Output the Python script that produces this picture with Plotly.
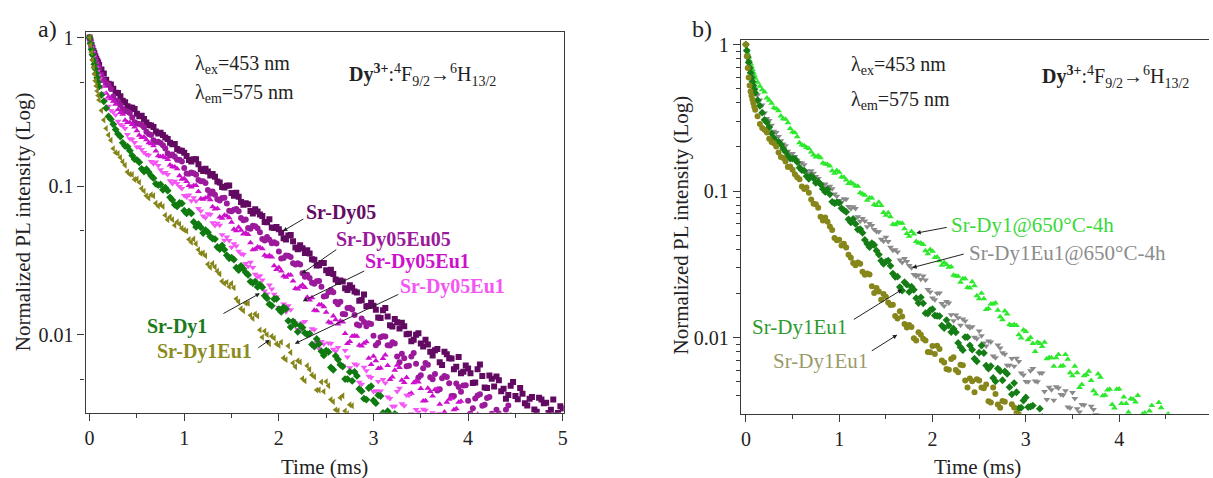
import numpy as np
import plotly.graph_objects as go

W, H = 1213, 478
SERIF = "Times New Roman, Liberation Serif, Times, serif"

# sampling grids of the decay traces (ms)
time_main = np.concatenate([[0.0, 0.02, 0.04, 0.06, 0.08, 0.10],
                            np.round(np.arange(0.15, 5.0001, 0.05), 3)])
time_mid = np.concatenate([[0.01, 0.03, 0.05, 0.07, 0.09, 0.125],
                           np.round(np.arange(0.175, 4.9751, 0.05), 3)])

# ---- panel a: log10 of normalized PL intensity ----
sr_dy05_log = [0, -0.05, -0.09, -0.125, -0.155, -0.185,
    -0.241, -0.310, -0.344, -0.373, -0.425, -0.462, -0.472, -0.512, -0.526, -0.572,
    -0.591, -0.631, -0.640, -0.673, -0.708, -0.716, -0.759, -0.775, -0.824, -0.818,
    -0.853, -0.898, -0.901, -0.918, -0.969, -1.006, -0.997, -1.045, -1.044, -1.107,
    -1.115, -1.166, -1.155, -1.191, -1.240, -1.223, -1.282, -1.290, -1.351, -1.332,
    -1.370, -1.424, -1.417, -1.431, -1.492, -1.533, -1.516, -1.565, -1.563, -1.627,
    -1.635, -1.687, -1.666, -1.708, -1.770, -1.728, -1.806, -1.804, -1.883, -1.834,
    -1.877, -1.944, -1.915, -1.918, -1.997, -2.044, -1.999, -2.058, -2.034, -2.114,
    -2.104, -2.184, -2.114, -2.158, -2.232, -2.150, -2.248, -2.226, -2.325, -2.232,
    -2.277, -2.358, -2.295, -2.280, -2.379, -2.430, -2.343, -2.412, -2.358, -2.460,
    -2.430, -2.502, -2.424, -2.460, -2.526, -2.436, -2.526, -2.496]
sr_dy05_mid_log = [-0.025, -0.072, -0.105, -0.142, -0.168, -0.215,
    -0.283, -0.316, -0.371, -0.394, -0.435, -0.471, -0.480, -0.529, -0.547, -0.588,
    -0.601, -0.646, -0.655, -0.683, -0.717, -0.750, -0.761, -0.796, -0.834, -0.819,
    -0.886, -0.883, -0.928, -0.936, -0.975, -1.009, -0.996, -1.065, -1.071, -1.124,
    -1.121, -1.183, -1.171, -1.201, -1.242, -1.278, -1.274, -1.313, -1.359, -1.329,
    -1.412, -1.398, -1.449, -1.452, -1.495, -1.532, -1.516, -1.584, -1.590, -1.644,
    -1.641, -1.699, -1.683, -1.715, -1.765, -1.807, -1.785, -1.832, -1.887, -1.820,
    -1.935, -1.893, -1.957, -1.942, -1.993, -2.034, -1.989, -2.078, -2.066, -2.139,
    -2.096, -2.203, -2.130, -2.159, -2.215, -2.259, -2.207, -2.258, -2.321, -2.200,
    -2.354, -2.273, -2.348, -2.306, -2.363, -2.405, -2.318, -2.433, -2.397, -2.475,
    -2.418, -2.517, -2.436, -2.457, -2.505, -2.541, -2.481]

sr_dy05eu05_log = [0, -0.055, -0.10, -0.14, -0.175, -0.21,
    -0.287, -0.319, -0.397, -0.429, -0.481, -0.498, -0.538, -0.578, -0.588, -0.634,
    -0.655, -0.702, -0.710, -0.746, -0.794, -0.801, -0.822, -0.877, -0.916, -0.913,
    -0.958, -0.966, -1.025, -1.035, -1.088, -1.079, -1.117, -1.168, -1.153, -1.214,
    -1.224, -1.287, -1.270, -1.310, -1.366, -1.361, -1.377, -1.440, -1.483, -1.468,
    -1.519, -1.519, -1.585, -1.595, -1.649, -1.639, -1.677, -1.738, -1.698, -1.778,
    -1.778, -1.862, -1.818, -1.866, -1.938, -1.914, -1.922, -2.006, -2.054, -2.010,
    -2.070, -2.050, -2.146, -2.128, -2.212, -2.146, -2.194, -2.272, -2.189, -2.286,
    -2.263, -2.366, -2.277, -2.326, -2.411, -2.352, -2.341, -2.444, -2.495, -2.408,
    -2.477, -2.426, -2.531, -2.504, -2.579, -2.504, -2.543, -2.612]
sr_dy05eu05_mid_log = [-0.028, -0.078, -0.12, -0.158, -0.192, -0.25,
    -0.307, -0.346, -0.423, -0.453, -0.496, -0.508, -0.569, -0.582, -0.604, -0.649,
    -0.691, -0.700, -0.724, -0.778, -0.787, -0.822, -0.833, -0.915, -0.907, -0.923,
    -0.967, -0.978, -1.050, -1.057, -1.096, -1.078, -1.165, -1.158, -1.169, -1.229,
    -1.281, -1.266, -1.283, -1.356, -1.341, -1.384, -1.386, -1.487, -1.466, -1.476,
    -1.527, -1.527, -1.610, -1.617, -1.657, -1.638, -1.743, -1.714, -1.714, -1.794,
    -1.860, -1.820, -1.830, -1.930, -1.890, -1.942, -1.928, -2.070, -2.016, -2.012,
    -2.072, -2.058, -2.185, -2.158, -2.209, -2.122, -2.287, -2.225, -2.202, -2.299,
    -2.375, -2.292, -2.284, -2.411, -2.328, -2.383, -2.339, -2.530, -2.428, -2.400,
    -2.470, -2.419, -2.566, -2.530, -2.572, -2.476, -2.632]

sr_dy05eu1_log = [0, -0.065, -0.12, -0.17, -0.215, -0.255,
    -0.328, -0.398, -0.428, -0.484, -0.515, -0.572, -0.585, -0.626, -0.672, -0.688,
    -0.714, -0.763, -0.802, -0.809, -0.858, -0.870, -0.929, -0.948, -0.996, -0.995,
    -1.035, -1.088, -1.075, -1.138, -1.150, -1.215, -1.200, -1.242, -1.300, -1.297,
    -1.315, -1.380, -1.425, -1.412, -1.465, -1.467, -1.535, -1.547, -1.604, -1.597,
    -1.638, -1.692, -1.665, -1.748, -1.751, -1.838, -1.797, -1.848, -1.921, -1.898,
    -1.907, -1.992, -2.045, -2.006, -2.071, -2.056, -2.157, -2.144, -2.227, -2.160,
    -2.207, -2.284, -2.205, -2.306, -2.287, -2.394, -2.309, -2.362, -2.444, -2.382,
    -2.368, -2.468, -2.520, -2.434, -2.504, -2.454, -2.560, -2.534, -2.609, -2.534]
sr_dy05eu1_mid_log = [-0.032, -0.092, -0.145, -0.19, -0.235, -0.295,
    -0.374, -0.412, -0.449, -0.504, -0.556, -0.572, -0.602, -0.657, -0.669, -0.708,
    -0.728, -0.795, -0.798, -0.821, -0.869, -0.882, -0.953, -0.968, -1.005, -0.995,
    -1.084, -1.079, -1.091, -1.154, -1.208, -1.195, -1.213, -1.289, -1.276, -1.321,
    -1.325, -1.428, -1.409, -1.421, -1.474, -1.476, -1.561, -1.571, -1.613, -1.598,
    -1.688, -1.676, -1.682, -1.766, -1.835, -1.798, -1.811, -1.913, -1.874, -1.927,
    -1.914, -2.059, -2.010, -2.010, -2.076, -2.047, -2.199, -2.174, -2.224, -2.136,
    -2.300, -2.239, -2.220, -2.321, -2.401, -2.322, -2.318, -2.445, -2.359, -2.411,
    -2.364, -2.554, -2.453, -2.427, -2.497, -2.447, -2.595, -2.560, -2.602]

sr_dy05eu1_b_log = [0, -0.07, -0.13, -0.18, -0.23, -0.28,
    -0.375, -0.462, -0.502, -0.562, -0.594, -0.652, -0.684, -0.736, -0.753, -0.786,
    -0.833, -0.837, -0.890, -0.908, -0.963, -0.966, -1.002, -1.062, -1.059, -1.078,
    -1.150, -1.200, -1.185, -1.246, -1.250, -1.327, -1.342, -1.410, -1.403, -1.454,
    -1.520, -1.512, -1.593, -1.602, -1.705, -1.664, -1.727, -1.816, -1.792, -1.805,
    -1.903, -1.965, -1.918, -1.984, -1.960, -2.052, -2.045, -2.115, -2.058, -2.111,
    -2.199, -2.105, -2.221, -2.197, -2.320, -2.219, -2.279, -2.381, -2.315, -2.300,
    -2.418, -2.480, -2.381, -2.464, -2.407, -2.532, -2.503, -2.593, -2.508, -2.556,
    -2.634, -2.530, -2.636, -2.602]
sr_dy05eu1_b_mid_log = [-0.035, -0.10, -0.155, -0.205, -0.255, -0.33,
    -0.415, -0.490, -0.521, -0.585, -0.612, -0.680, -0.705, -0.736, -0.773, -0.791,
    -0.849, -0.860, -0.908, -0.921, -0.981, -0.982, -1.015, -1.072, -1.097, -1.100,
    -1.167, -1.212, -1.190, -1.265, -1.263, -1.363, -1.365, -1.387, -1.437, -1.459,
    -1.538, -1.547, -1.611, -1.631, -1.725, -1.691, -1.745, -1.822, -1.844, -1.832,
    -1.921, -1.973, -1.911, -1.999, -1.966, -2.094, -2.062, -2.055, -2.098, -2.085,
    -2.208, -2.149, -2.244, -2.203, -2.333, -2.242, -2.288, -2.376, -2.378, -2.324,
    -2.428, -2.480, -2.360, -2.478, -2.407, -2.588, -2.520, -2.501, -2.553, -2.525,
    -2.638, -2.569, -2.654]

sr_dy1_log = [0, -0.08, -0.15, -0.21, -0.27, -0.33,
    -0.429, -0.531, -0.583, -0.648, -0.708, -0.733, -0.794, -0.823, -0.883, -0.886,
    -0.930, -0.984, -0.988, -1.010, -1.075, -1.125, -1.112, -1.165, -1.170, -1.241,
    -1.256, -1.315, -1.310, -1.353, -1.409, -1.399, -1.465, -1.480, -1.548, -1.536,
    -1.581, -1.642, -1.642, -1.663, -1.737, -1.794, -1.759, -1.828, -1.815, -1.906,
    -1.909, -1.980, -1.951, -1.998, -2.065, -2.028, -2.111, -2.106, -2.220, -2.142,
    -2.202, -2.298, -2.250, -2.250, -2.364, -2.430, -2.358, -2.442, -2.406, -2.526,
    -2.514, -2.604, -2.544]
sr_dy1_mid_log = [-0.04, -0.115, -0.18, -0.24, -0.30, -0.385,
    -0.475, -0.549, -0.619, -0.666, -0.730, -0.761, -0.818, -0.839, -0.901, -0.906,
    -0.946, -0.993, -1.024, -1.030, -1.093, -1.136, -1.116, -1.183, -1.183, -1.274,
    -1.276, -1.295, -1.339, -1.356, -1.424, -1.427, -1.485, -1.494, -1.565, -1.556,
    -1.597, -1.652, -1.678, -1.680, -1.754, -1.805, -1.758, -1.846, -1.825, -1.948,
    -1.929, -1.938, -1.987, -1.992, -2.079, -2.062, -2.139, -2.115, -2.235, -2.166,
    -2.214, -2.298, -2.310, -2.277, -2.379, -2.436, -2.346, -2.460, -2.412, -2.580,
    -2.535, -2.532]

sr_dy1eu1_log = [0, -0.10, -0.20, -0.29, -0.36, -0.42,
    -0.554, -0.655, -0.747, -0.780, -0.835, -0.904, -0.921, -0.952, -1.015, -1.065,
    -1.057, -1.115, -1.122, -1.195, -1.207, -1.263, -1.255, -1.295, -1.358, -1.355,
    -1.428, -1.450, -1.525, -1.520, -1.572, -1.640, -1.647, -1.655, -1.758, -1.825,
    -1.788, -1.869, -1.860, -1.967, -1.975, -2.060, -2.023, -2.071, -2.156, -2.075,
    -2.190, -2.174, -2.295, -2.208, -2.270, -2.372, -2.317, -2.315, -2.436, -2.505,
    -2.424, -2.513, -2.471, -2.599, -2.583, -2.679]
sr_dy1eu1_mid_log = [-0.05, -0.15, -0.245, -0.325, -0.39, -0.49,
    -0.611, -0.691, -0.774, -0.806, -0.859, -0.920, -0.955, -0.974, -1.033, -1.079,
    -1.064, -1.134, -1.136, -1.226, -1.225, -1.241, -1.283, -1.302, -1.377, -1.387,
    -1.452, -1.468, -1.545, -1.544, -1.591, -1.654, -1.676, -1.684, -1.778, -1.838,
    -1.788, -1.891, -1.873, -2.016, -1.999, -2.010, -2.061, -2.049, -2.167, -2.119,
    -2.215, -2.183, -2.310, -2.233, -2.282, -2.371, -2.381, -2.343, -2.451, -2.510,
    -2.410, -2.531, -2.477, -2.656, -2.605]

# ---- panel b: log10 of normalized PL intensity ----
sr_dy1_650_log = [0, -0.06, -0.11, -0.15, -0.19, -0.23,
    -0.284, -0.323, -0.380, -0.432, -0.452, -0.507, -0.534, -0.597, -0.629, -0.686,
    -0.703, -0.733, -0.768, -0.773, -0.815, -0.828, -0.878, -0.871, -0.905, -0.949,
    -0.951, -0.967, -1.020, -1.063, -1.048, -1.099, -1.099, -1.165, -1.175, -1.229,
    -1.219, -1.257, -1.308, -1.293, -1.354, -1.364, -1.427, -1.410, -1.450, -1.506,
    -1.501, -1.517, -1.580, -1.623, -1.598, -1.662, -1.646, -1.734, -1.734, -1.802,
    -1.770, -1.814, -1.878, -1.838, -1.918, -1.918, -2.002, -1.958, -2.000, -2.094,
    -2.040, -2.032, -2.138, -2.196, -2.116, -2.192, -2.148, -2.260, -2.239, -2.320,
    -2.251, -2.292, -2.385, -2.270, -2.394, -2.353, -2.480, -2.351, -2.406, -2.509,
    -2.420, -2.395, -2.522, -2.585, -2.464, -2.551, -2.478, -2.613, -2.572, -2.667,
    -2.562]
sr_dy1_650_mid_log = [-0.03, -0.085, -0.13, -0.17, -0.21, -0.257,
    -0.308, -0.364, -0.400, -0.438, -0.488, -0.510, -0.573, -0.602, -0.670, -0.690,
    -0.710, -0.754, -0.759, -0.808, -0.818, -0.862, -0.860, -0.904, -0.925, -0.939,
    -0.966, -1.012, -1.029, -1.048, -1.091, -1.077, -1.147, -1.148, -1.227, -1.214,
    -1.220, -1.290, -1.276, -1.344, -1.354, -1.408, -1.399, -1.453, -1.476, -1.488,
    -1.519, -1.574, -1.582, -1.598, -1.658, -1.618, -1.714, -1.698, -1.808, -1.770,
    -1.764, -1.858, -1.818, -1.910, -1.910, -1.980, -1.948, -2.015, -2.041, -2.031,
    -2.060, -2.145, -2.137, -2.138, -2.196, -2.116, -2.240, -2.196, -2.340, -2.261,
    -2.230, -2.363, -2.248, -2.396, -2.358, -2.457, -2.352, -2.450, -2.450, -2.417,
    -2.440, -2.539, -2.514, -2.500, -2.564, -2.443, -2.594, -2.521, -2.700, -2.583]

sr_dy1eu1_650_log = [0, -0.08, -0.15, -0.21, -0.26, -0.31,
    -0.379, -0.467, -0.519, -0.591, -0.628, -0.678, -0.728, -0.743, -0.789, -0.808,
    -0.863, -0.861, -0.900, -0.949, -0.951, -0.967, -1.020, -1.065, -1.052, -1.105,
    -1.107, -1.175, -1.187, -1.243, -1.235, -1.275, -1.328, -1.315, -1.383, -1.400,
    -1.470, -1.460, -1.507, -1.570, -1.572, -1.580, -1.671, -1.730, -1.697, -1.768,
    -1.754, -1.844, -1.846, -1.916, -1.886, -1.932, -1.998, -1.955, -2.037, -2.023,
    -2.125, -2.051, -2.103, -2.189, -2.142, -2.140, -2.242, -2.300, -2.226, -2.296,
    -2.242, -2.367, -2.338, -2.428, -2.343, -2.391, -2.474, -2.375, -2.486, -2.457,
    -2.575, -2.469, -2.524, -2.621, -2.550]
sr_dy1eu1_650_mid_log = [-0.04, -0.115, -0.18, -0.235, -0.285, -0.345,
    -0.412, -0.505, -0.550, -0.601, -0.657, -0.691, -0.745, -0.764, -0.805, -0.821,
    -0.878, -0.879, -0.914, -0.957, -0.977, -0.984, -1.035, -1.076, -1.056, -1.121,
    -1.119, -1.206, -1.205, -1.221, -1.263, -1.277, -1.342, -1.344, -1.404, -1.415,
    -1.488, -1.481, -1.523, -1.581, -1.601, -1.606, -1.689, -1.742, -1.696, -1.785,
    -1.763, -1.885, -1.865, -1.873, -1.921, -1.925, -2.008, -1.988, -2.058, -2.030,
    -2.138, -2.071, -2.113, -2.188, -2.196, -2.163, -2.255, -2.302, -2.211, -2.302,
    -2.242, -2.423, -2.355, -2.336, -2.388, -2.363, -2.481, -2.416, -2.507, -2.460,
    -2.585, -2.490, -2.530, -2.614]

sr_dy1eu1_b_log = [0, -0.085, -0.16, -0.225, -0.28, -0.33,
    -0.418, -0.514, -0.565, -0.637, -0.665, -0.711, -0.760, -0.779, -0.802, -0.857,
    -0.898, -0.897, -0.944, -0.954, -1.006, -1.022, -1.083, -1.080, -1.130, -1.193,
    -1.190, -1.263, -1.285, -1.360, -1.355, -1.407, -1.475, -1.482, -1.510, -1.585,
    -1.655, -1.622, -1.688, -1.674, -1.764, -1.766, -1.836, -1.806, -1.852, -1.918,
    -1.880, -1.962, -1.964, -2.065, -1.996, -2.053, -2.144, -2.102, -2.105, -2.212,
    -2.275, -2.211, -2.291, -2.247, -2.387, -2.373, -2.478, -2.408, -2.471, -2.569,
    -2.485, -2.611, -2.597]
sr_dy1eu1_b_mid_log = [-0.042, -0.122, -0.192, -0.253, -0.305, -0.38,
    -0.465, -0.532, -0.606, -0.663, -0.682, -0.732, -0.778, -0.780, -0.840, -0.861,
    -0.916, -0.913, -0.936, -0.985, -0.989, -1.073, -1.077, -1.118, -1.142, -1.214,
    -1.224, -1.259, -1.333, -1.383, -1.368, -1.433, -1.496, -1.474, -1.563, -1.584,
    -1.679, -1.639, -1.653, -1.731, -1.725, -1.833, -1.813, -1.849, -1.853, -1.935,
    -1.917, -1.939, -2.036, -2.086, -1.997, -2.082, -2.162, -2.054, -2.191, -2.194,
    -2.298, -2.229, -2.231, -2.338, -2.310, -2.482, -2.429, -2.474, -2.464, -2.590,
    -2.541, -2.562]

sr_dy1eu1_c_log = [0, -0.16, -0.28, -0.35, -0.40, -0.445,
    -0.542, -0.582, -0.642, -0.674, -0.737, -0.774, -0.836, -0.854, -0.906, -0.968,
    -0.975, -1.058, -1.090, -1.175, -1.180, -1.242, -1.320, -1.332, -1.360, -1.435,
    -1.490, -1.487, -1.550, -1.562, -1.649, -1.661, -1.741, -1.721, -1.777, -1.853,
    -1.820, -1.907, -1.914, -2.005, -1.963, -2.008, -2.099, -2.057, -2.055, -2.157,
    -2.215, -2.146, -2.221, -2.185, -2.293, -2.279, -2.373, -2.293, -2.346, -2.434,
    -2.340, -2.456, -2.432, -2.555, -2.454, -2.514, -2.616, -2.550]
sr_dy1eu1_c_mid_log = [-0.08, -0.225, -0.32, -0.375, -0.425, -0.49,
    -0.570, -0.601, -0.665, -0.695, -0.768, -0.798, -0.832, -0.885, -0.919, -0.986,
    -1.011, -1.087, -1.113, -1.200, -1.209, -1.266, -1.336, -1.371, -1.385, -1.455,
    -1.506, -1.496, -1.571, -1.570, -1.695, -1.685, -1.703, -1.761, -1.775, -1.869,
    -1.856, -1.931, -1.928, -2.020, -1.980, -2.020, -2.100, -2.111, -2.078, -2.169,
    -2.219, -2.134, -2.236, -2.189, -2.341, -2.298, -2.284, -2.341, -2.320, -2.443,
    -2.384, -2.479, -2.438, -2.568, -2.477, -2.523, -2.611]

# (values, second-pass values, colour, symbol)
panel_a = [
    (sr_dy05_log, sr_dy05_mid_log, "#620a62", "square"),
    (sr_dy05eu05_log, sr_dy05eu05_mid_log, "#9b1a9b", "circle"),
    (sr_dy05eu1_log, sr_dy05eu1_mid_log, "#cc10cc", "triangle-up"),
    (sr_dy05eu1_b_log, sr_dy05eu1_b_mid_log, "#f455f4", "triangle-down"),
    (sr_dy1_log, sr_dy1_mid_log, "#0f7a0f", "diamond"),
    (sr_dy1eu1_log, sr_dy1eu1_mid_log, "#85851a", "triangle-left"),
]
panel_b = [
    (sr_dy1_650_log, sr_dy1_650_mid_log, "#2ee82e", "triangle-up"),
    (sr_dy1eu1_650_log, sr_dy1eu1_650_mid_log, "#8a8a8a", "triangle-down"),
    (sr_dy1eu1_b_log, sr_dy1eu1_b_mid_log, "#157d15", "diamond"),
    (sr_dy1eu1_c_log, sr_dy1eu1_c_mid_log, "#86861a", "circle"),
]

fig = go.Figure()
for xa, ya, series in (("x", "y", panel_a), ("x2", "y2", panel_b)):
    for vals, mids, col, sym in series:
        t = np.concatenate([time_main[:len(vals)], time_mid[:len(mids)]])
        v = np.concatenate([vals, mids])
        fig.add_trace(go.Scatter(
            x=t, y=np.power(10.0, v), mode="markers", xaxis=xa, yaxis=ya,
            marker=dict(color=col, symbol=sym, size=6, line=dict(width=0)),
            showlegend=False, hoverinfo="skip"))


def px(x):
    return x / W


def py(y):
    return 1 - y / H


TICK_FONT = dict(family=SERIF, size=20, color="#222")
axis_common = dict(showline=True, linecolor="#3a3a3a", linewidth=1.3,
                   showgrid=False, zeroline=False, ticks="outside",
                   ticklen=7, tickwidth=1.2, tickcolor="#3a3a3a",
                   tickfont=TICK_FONT)

x_ticks = dict(tickmode="array", tickvals=[0, 1, 2, 3, 4, 5],
               minor=dict(tickmode="linear", tick0=0, dtick=0.5, ticks="outside",
                          ticklen=4, tickwidth=1.2, tickcolor="#3a3a3a"))

minor_a = [0.5, 0.05, 0.005]
minor_b = [k * 10.0 ** e for e in (-3, -2, -1) for k in range(2, 10)]

fig.update_layout(
    width=W, height=H, margin=dict(l=0, r=0, t=0, b=0),
    paper_bgcolor="white", plot_bgcolor="white",
    font=dict(family=SERIF, size=20, color="#222"),
    xaxis=dict(domain=[px(85), px(565)], range=[-0.042, 5.01], anchor="y",
               mirror=True, **x_ticks, **axis_common),
    yaxis=dict(domain=[py(412), py(26)], type="log", range=[-2.525, 0.04],
               anchor="x", mirror=True,
               tickmode="array", tickvals=[0.01, 0.1, 1], ticktext=["0.01", "0.1", "1"],
               minor=dict(tickmode="array", tickvals=minor_a, ticks="outside",
                          ticklen=4, tickwidth=1.2, tickcolor="#3a3a3a"),
               **axis_common),
    xaxis2=dict(domain=[px(743), 1.0], range=[-0.053, 4.963], anchor="y2",
                mirror=True, **x_ticks, **axis_common),
    yaxis2=dict(domain=[py(413), py(34)], type="log", range=[-2.52, 0.034],
                anchor="x2", mirror=False,
                tickmode="array", tickvals=[0.01, 0.1, 1], ticktext=["0.01", "0.1", "1"],
                minor=dict(tickmode="array", tickvals=minor_b, ticks="outside",
                           ticklen=4, tickwidth=1.2, tickcolor="#3a3a3a"),
                **axis_common),
)

ann = []


def text(x, y, s, size=20, color="#222", angle=0, xanchor="center"):
    ann.append(dict(xref="paper", yref="paper", x=px(x), y=py(y), text=s,
                    showarrow=False, xanchor=xanchor, yanchor="middle",
                    textangle=angle, font=dict(family=SERIF, size=size, color=color)))


def arrow(tail, tip):
    ann.append(dict(xref="paper", yref="paper", x=px(tip[0]), y=py(tip[1]),
                    ax=tail[0] - tip[0], ay=tail[1] - tip[1], axref="pixel", ayref="pixel",
                    text="", showarrow=True, arrowhead=2, arrowsize=0.9,
                    arrowwidth=1, arrowcolor="#222"))


# panel letters, axis titles
text(47, 23, "a)", size=24)
text(704, 23, "b)", size=24)
text(22, 218, "Normalized PL intensity (Log)", size=21, angle=-90)
text(683, 222, "Normalized PL intensity (Log)", size=21, angle=-90)
text(325, 467, "Time (ms)", size=21)
text(981, 467, "Time (ms)", size=21)

# excitation / emission and transition labels
text(193, 59, "λ<sub>ex</sub>=453 nm", xanchor="left")
text(193, 89, "λ<sub>em</sub>=575 nm", xanchor="left")
text(347, 70, "<b>Dy<sup>3+</sup></b>:<sup>4</sup>F<sub>9/2</sub>→<sup>6</sup>H<sub>13/2</sub>",
     xanchor="left")
text(852, 60, "λ<sub>ex</sub>=453 nm", xanchor="left")
text(852, 96, "λ<sub>em</sub>=575 nm", xanchor="left")
text(1043, 72, "<b>Dy<sup>3+</sup></b>:<sup>4</sup>F<sub>9/2</sub>→<sup>6</sup>H<sub>13/2</sub>",
     xanchor="left")

# series labels, panel a
text(341, 209, "<b>Sr-Dy05</b>", color="#650a65")
text(394, 236, "<b>Sr-Dy05Eu05</b>", color="#9b1a9b")
text(418, 259, "<b>Sr-Dy05Eu1</b>", color="#cc10cc")
text(453, 284, "<b>Sr-Dy05Eu1</b>", color="#f455f4")
text(177, 325, "<b>Sr-Dy1</b>", color="#1b7a1b")
text(204, 350, "<b>Sr-Dy1Eu1</b>", color="#8b8b1f")
arrow((305, 215), (283, 228))
arrow((338, 246), (302, 271))
arrow((366, 268), (303, 299))
arrow((400, 292), (295, 342))
arrow((222, 312), (260, 291))
arrow((257, 347), (270, 338))

# series labels, panel b
text(1036, 222, "Sr-Dy1@650°C-4h", size=21, color="#3ad83a")
text(1071, 250, "Sr-Dy1Eu1@650°C-4h", size=21, color="#8c8c8c")
text(802, 325, "Sr-Dy1Eu1", size=21, color="#2e9a2e")
text(823, 360, "Sr-Dy1Eu1", size=21, color="#9a9a6a")
arrow((951, 224), (919, 230))
arrow((968, 251), (915, 265))
arrow((855, 318), (905, 287))
arrow((873, 350), (900, 333))

fig.update_layout(annotations=ann)
fig.write_html("out.html")
